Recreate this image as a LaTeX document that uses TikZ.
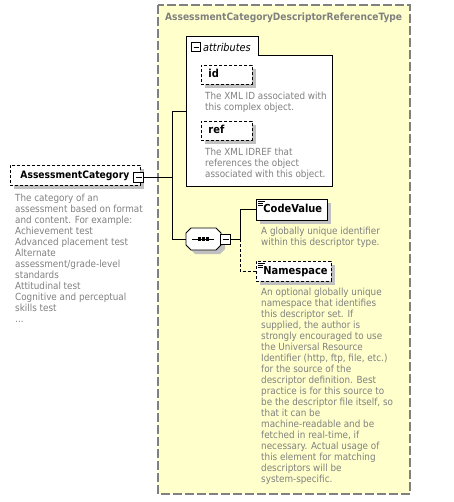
\documentclass[tikz,border=0pt]{standalone}
\usepackage{fontspec}
\setmainfont{DejaVu Sans Condensed}
\usetikzlibrary{shadows,calc}
\definecolor{ybg}{RGB}{255,255,204}
\definecolor{ybord}{RGB}{128,128,128}
\definecolor{desccol}{RGB}{128,128,128}
\definecolor{shadcol}{RGB}{192,192,192}
\tikzset{
  conn/.style={line width=0.9pt, draw=black},
  dsh/.style={dash pattern=on 3pt off 2pt},
  myshadow/.style={drop shadow={shadow xshift=4pt, shadow yshift=-4pt, fill=shadcol, opacity=1}},
  elem/.style={draw=black, fill=white, line width=0.9pt, anchor=north west,
    font=\fontsize{11}{12}\selectfont\bfseries, inner xsep=7pt, inner ysep=0pt,
    text height=8pt, text depth=2.2pt, myshadow},
  descr/.style={font=\fontsize{9.8}{11}\selectfont, text=desccol, align=left, inner sep=0pt, anchor=north west},
  btn/.style={draw=black, fill=white, line width=0.9pt, minimum size=10pt, inner sep=0pt,
    path picture={\draw[line width=0.9pt] ($(path picture bounding box.west)+(2pt,0)$) -- ($(path picture bounding box.east)+(-2pt,0)$);}},
}
\begin{document}
\begin{tikzpicture}[x=1pt,y=-1pt]
\useasboundingbox (0,0) rectangle (453,502);
% yellow type box
\draw[draw=ybord, line width=1.2pt, dash pattern=on 9pt off 3pt, fill=ybg] (158,5) rectangle (410,494);
\node[anchor=west, inner sep=0pt, font=\fontsize{10.1}{11}\selectfont\bfseries, text=ybord] (title) at (165,18) {AssessmentCategoryDescriptorReferenceType};

% attributes group
\draw[line width=0.9pt, fill=white] (186,36) -- (258,36) -- (258,55) -- (332,55) -- (332,186) -- (186,186) -- cycle;
\coordinate (attrL) at (186,111);
\node[btn, minimum size=9pt] (attrbtn) at (196,47) {};
\node[anchor=west, inner sep=0pt, font=\fontsize{10.8}{11}\selectfont\itshape] (attrlbl) at (203,47) {attributes};

\node[elem, dsh, minimum height=19pt] (id) at (201,65) {\makebox[37pt][l]{id}};
\node[descr] (iddesc) at (205,92) {The XML ID associated with\\this complex object.};
\node[elem, dsh, minimum height=19pt] (ref) at (201,121) {\makebox[37pt][l]{ref}};
\node[descr] (refdesc) at (205,148) {The XML IDREF that\\references the object\\associated with this object.};

% main element
\node[elem, dsh, minimum height=20pt, inner xsep=10pt, font=\fontsize{10.2}{12}\selectfont\bfseries] (ac) at (10,165) {\makebox[110pt][l]{AssessmentCategory}};
\node[btn] (acbtn) at (138.5,177.5) {};
\node[descr] (acdesc) at (15,194) {The category of an\\assessment based on format\\and content. For example:\\Achievement test\\Advanced placement test\\Alternate\\assessment/grade-level\\standards\\Attitudinal test\\Cognitive and perceptual\\skills test\\...};

% compositor
\fill[shadcol] (195,232) -- (220,232) -- (225,237) -- (225,249) -- (220,254) -- (195,254) -- (190,249) -- (190,237) -- cycle;
\draw[line width=0.9pt, fill=white] (191,228) -- (216,228) -- (221,233) -- (221,245) -- (216,250) -- (191,250) -- (186,245) -- (186,233) -- cycle;
\node[minimum width=35pt, minimum height=22pt, inner sep=0pt] (comp) at (203.5,239) {};
\draw[line width=0.9pt] (192,239) -- (214,239);
\fill (197.5,237.3) rectangle (200.7,240.7);
\fill (201.5,237.3) rectangle (204.7,240.7);
\fill (205.5,237.3) rectangle (208.7,240.7);
\node[btn, fill=white] (compbtn) at (225.5,239) {};

% child elements
\node[elem, minimum height=21pt] (cv) at (256,199) {\makebox[57pt][l]{CodeValue}};
\node[descr] (cvdesc) at (261,227) {A globally unique identifier\\within this descriptor type.};
\node[elem, dsh, minimum height=20pt] (ns) at (256,261) {\makebox[61pt][l]{Namespace}};
\node[descr] (nsdesc) at (261,288) {An optional globally unique\\namespace that identifies\\this descriptor set. If\\supplied, the author is\\strongly encouraged to use\\the Universal Resource\\Identifier (http, ftp, file, etc.)\\for the source of the\\descriptor definition. Best\\practice is for this source to\\be the descriptor file itself, so\\that it can be\\machine-readable and be\\fetched in real-time, if\\necessary. Actual usage of\\this element for matching\\descriptors will be\\system-specific.};
\foreach \n in {cv,ns}{
  \draw[line width=0.6pt] ($(\n.north west)+(2,2.5)$) -- ++(7,0);
  \draw[line width=0.6pt] ($(\n.north west)+(2,4.5)$) -- ++(5,0);
  \draw[line width=0.6pt] ($(\n.north west)+(2,6.5)$) -- ++(5,0);
}

% connectors
\coordinate (jA) at (172,176);
\coordinate (jB) at (240,239);
\draw[conn] (acbtn.east) -- (acbtn.east -| jA);
\draw[conn] (attrL) -- (attrL -| jA) -- (jA |- comp.west) -- (comp.west);
\draw[conn] (compbtn.east) -- (jB);
\draw[conn] (jB) |- (cv.west);
\draw[conn, dsh] (jB) |- (ns.west);
\end{tikzpicture}
\end{document}
